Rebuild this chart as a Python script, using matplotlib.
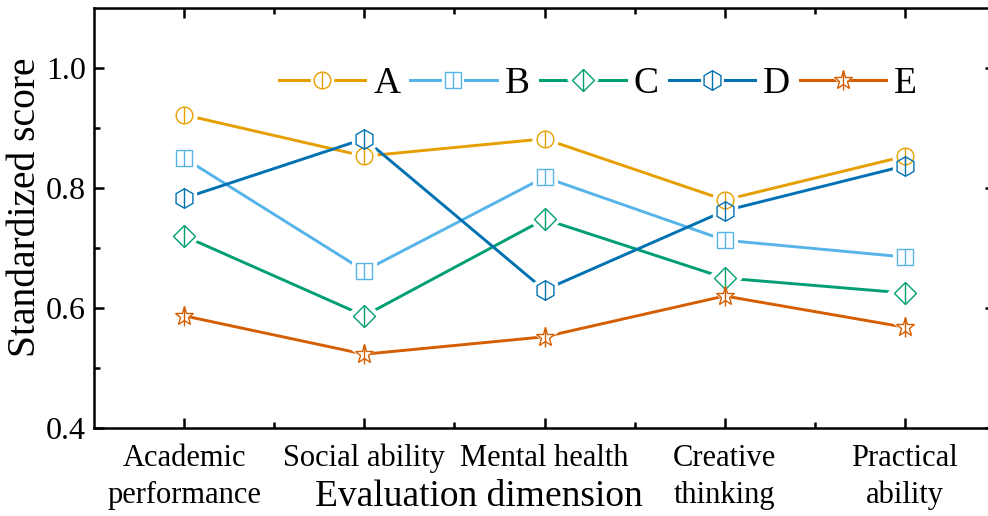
import matplotlib
matplotlib.use("Agg")
import matplotlib.pyplot as plt
from matplotlib.lines import Line2D
from matplotlib.ticker import FixedLocator

plt.rcParams['font.family'] = ['Liberation Serif', 'DejaVu Serif']

categories = ["Academic\nperformance", "Social ability", "Mental health",
              "Creative\nthinking", "Practical\nability"]
series_names = ["A", "B", "C", "D", "E"]
A = [0.922, 0.853, 0.882, 0.780, 0.853]
B = [0.850, 0.662, 0.818, 0.713, 0.685]
C = [0.720, 0.587, 0.748, 0.650, 0.625]
D = [0.783, 0.882, 0.630, 0.762, 0.837]
E = [0.587, 0.523, 0.552, 0.620, 0.568]
values = [A, B, C, D, E]
colors = ["#E69F00", "#56B4E9", "#009E73", "#0072B2", "#D55E00"]
markers = ["o", "s", "D", "h", "*"]
msizes = [12, 11, 11, 14, 14]
vbar = [12, 11, 15.5, 14, 15]

fig = plt.figure(figsize=(9.88, 5.16), dpi=100)
ax = fig.add_axes([94/988, 1 - 428/516, 901/988, 420/516])

x = list(range(len(categories)))
handles = []
for vals, name, c, m, ms, vb in zip(values, series_names, colors, markers, msizes, vbar):
    ax.plot(x, vals, color=c, lw=2.1, zorder=2, solid_capstyle='butt')
    ax.plot(x, vals, ls='none', marker=m, ms=ms + 7, mfc='white',
            mec='white', mew=0, zorder=3)
    ax.plot(x, vals, ls='none', marker=m, ms=ms, mfc='none', mec=c,
            mew=1.0, zorder=4)
    ax.plot(x, vals, ls='none', marker='|', ms=vb, mec=c, mew=1.0, zorder=4)
    h_line = Line2D([], [], color=c, lw=2.2)
    h_halo = Line2D([], [], ls='none', marker=m, ms=ms + 5, mfc='white', mec='white', mew=0)
    h_mk = Line2D([], [], ls='none', marker=m, ms=ms, mfc='none', mec=c, mew=1.0)
    h_bar = Line2D([], [], ls='none', marker='|', ms=vb, mec=c, mew=1.0)
    handles.append((h_line, h_halo, h_mk, h_bar))

ax.set_xlim(-0.5, 4.5)
ax.set_ylim(0.4, 1.1)
ax.set_xticks(x)
ax.set_xticklabels(categories, fontsize=22, linespacing=1.35)
ax.xaxis.set_minor_locator(FixedLocator([0.5, 1.5, 2.5, 3.5]))
ax.set_yticks([0.4, 0.6, 0.8, 1.0])
ax.set_yticklabels(["0.4", "0.6", "0.8", "1.0"], fontsize=23)
ax.yaxis.set_minor_locator(FixedLocator([0.5, 0.7, 0.9]))
ax.tick_params(which='both', direction='in', top=True, right=True, width=1.8)
ax.tick_params(which='major', length=7)
ax.tick_params(axis='y', which='major', pad=6)
ax.tick_params(axis='x', which='major', pad=11.5)
ax.tick_params(which='minor', length=4)
for s in ax.spines.values():
    s.set_linewidth(1.8)

ax.set_xlabel("Evaluation dimension", fontsize=27)
ax.xaxis.set_label_coords((479 - 94) / 901, -69 / 420)
ax.xaxis.label.set_va('center')
ax.set_ylabel("Standardized score", fontsize=28.5)
ax.yaxis.set_label_coords((26 - 94) / 901, (428 - 207) / 420)
ax.yaxis.label.set_va('center')

ax.legend(handles, series_names, ncol=5, frameon=False, fontsize=27,
          handlelength=2.3, handletextpad=0.21, columnspacing=0.27,
          loc='center left', bbox_to_anchor=((279 - 94) / 901, (428 - 84) / 420),
          borderaxespad=0, borderpad=0)

fig.savefig("out.png", dpi=100)
